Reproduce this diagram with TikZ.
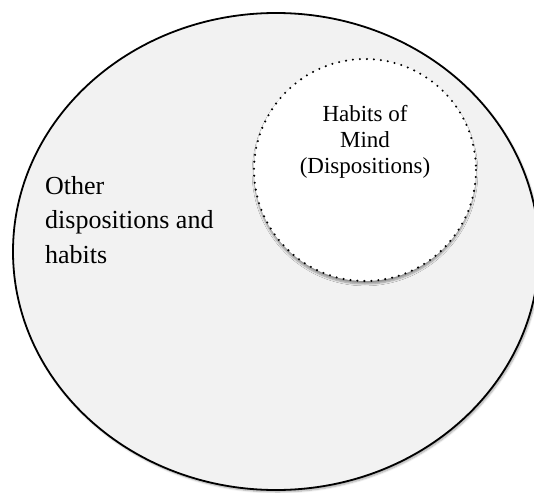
\documentclass[tikz,border=0pt]{standalone}
\usepackage{fontspec}
\setmainfont{Liberation Serif}
\usetikzlibrary{shadows.blur}
\definecolor{paleGray}{HTML}{F2F2F2}
\tikzset{
  outerset/.style={draw=black, line width=1.8pt, fill=paleGray,
    blur shadow={shadow xshift=1.5pt, shadow yshift=-2pt, shadow blur steps=6, shadow opacity=35}},
  innerset/.style={draw=black, line width=2.3pt, line cap=round,
    dash pattern=on 0pt off 7pt, fill=white,
    blur shadow={shadow xshift=0pt, shadow yshift=-3pt, shadow blur steps=6, shadow opacity=40}},
  innerlabel/.style={align=center, inner sep=0pt, font=\fontsize{23}{26}\selectfont},
  outerlabel/.style={align=left, inner sep=0pt, font=\fontsize{26}{34.5}\selectfont}
}
\begin{document}
\begin{tikzpicture}[x=1pt, y=-1pt]
  \useasboundingbox (0,0) rectangle (534,492);
  \clip (0,0) rectangle (534,492);
  % outer set: all dispositions and habits
  \path[outerset] (276,251.5) ellipse [x radius=263, y radius=238.5];
  % inner set: habits of mind
  \path[innerset] (365,170) circle [radius=111];
  % base anchor sits on the last line of each label
  \node[innerlabel, anchor=base] (hom) at (365,173) {Habits of\\Mind\\(Dispositions)};
  \node[outerlabel, anchor=base west] (other) at (45,263) {Other\\dispositions and\\habits};
\end{tikzpicture}
\end{document}
